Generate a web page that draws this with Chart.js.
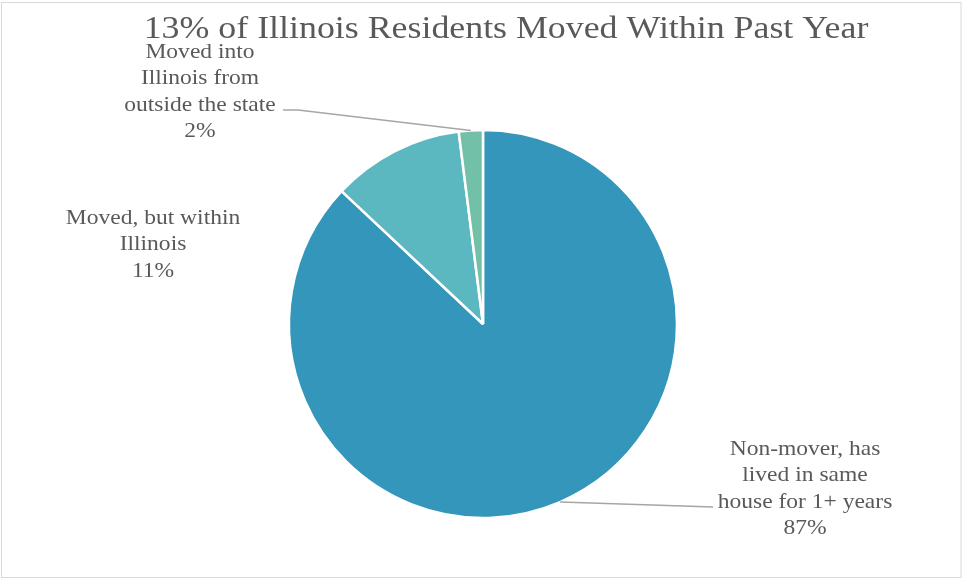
<!DOCTYPE html>
<html>
<head>
<meta charset="utf-8">
<script src="https://cdn.jsdelivr.net/npm/chart.js@4"></script>
<style>
  html, body { margin: 0; padding: 0; background: #ffffff; }
  #wrap { width: 962px; height: 579px; position: relative; }
</style>
</head>
<body>
<div id="wrap"><canvas id="c" width="962" height="579"></canvas></div>
<script>
const titleText = "13% of Illinois Residents Moved Within Past Year";
const categories = [
  ["Non-mover, has", "lived in same", "house for 1+ years"],
  ["Moved, but within", "Illinois"],
  ["Moved into", "Illinois from", "outside the state"]
];
const values = [87, 11, 2];
const percentLabels = ["87%", "11%", "2%"];
const colors = ["#3596BB", "#5BB7C0", "#72C0A7"];

const FONT = '"Liberation Serif", "DejaVu Serif", serif';
const TEXT_COLOR = "#595959";
const STRETCH = 1.12;

// label layout: center x, first-line center y, and leader-line elbow (null = no leader)
const labelLayout = [
  { x: 805, y: 449, elbow: { x: 713, y: 507 } },
  { x: 153, y: 218, elbow: null },
  { x: 200, y: 52, elbow: { x: 283, y: 110, end: { x: 298, y: 110 } } }
];
const lineH = 26.5;

function stretchedText(ctx, t, x, y) {
  ctx.save();
  ctx.translate(x, y);
  ctx.scale(STRETCH, 1);
  ctx.fillText(t, 0, 0);
  ctx.restore();
}

const decorPlugin = {
  id: "decor",
  beforeDraw(chart) {
    const ctx = chart.ctx;
    ctx.save();
    ctx.fillStyle = "#ffffff";
    ctx.fillRect(0, 0, chart.width, chart.height);
    ctx.strokeStyle = "#D9D9D9";
    ctx.lineWidth = 1;
    ctx.strokeRect(1.5, 2.5, chart.width - 2.5, chart.height - 4);
    ctx.restore();
  },
  afterDraw(chart) {
    const ctx = chart.ctx;
    ctx.save();
    // title
    ctx.fillStyle = TEXT_COLOR;
    ctx.font = "32px " + FONT;
    ctx.textAlign = "center";
    ctx.textBaseline = "middle";
    stretchedText(ctx, titleText, 506, 30);

    const meta = chart.getDatasetMeta(0);
    meta.data.forEach((arc, i) => {
      const lay = labelLayout[i];
      const lines = categories[i].concat([percentLabels[i]]);
      if (lay.elbow) {
        const mid = (arc.startAngle + arc.endAngle) / 2;
        const sx = arc.x + Math.cos(mid) * arc.outerRadius;
        const sy = arc.y + Math.sin(mid) * arc.outerRadius;
        ctx.strokeStyle = "#A6A6A6";
        ctx.lineWidth = 1.5;
        ctx.beginPath();
        ctx.moveTo(sx, sy);
        if (lay.elbow.end) {
          ctx.lineTo(lay.elbow.end.x, lay.elbow.end.y);
        }
        ctx.lineTo(lay.elbow.x, lay.elbow.y);
        ctx.stroke();
      }
      ctx.fillStyle = TEXT_COLOR;
      ctx.font = "21px " + FONT;
      ctx.textAlign = "center";
      ctx.textBaseline = "middle";
      lines.forEach((t, k) => stretchedText(ctx, t, lay.x, lay.y + k * lineH));
    });
    ctx.restore();
  }
};

new Chart(document.getElementById("c"), {
  type: "pie",
  data: {
    labels: categories.map(c => c.join(" ")),
    datasets: [{
      data: values,
      backgroundColor: colors,
      borderColor: "#ffffff",
      borderWidth: 2.5,
      radius: 194
    }]
  },
  options: {
    responsive: false,
    animation: false,
    devicePixelRatio: 1,
    layout: { padding: { top: 130, bottom: 61, left: 4, right: 0 } },
    plugins: {
      legend: { display: false },
      title: { display: false },
      tooltip: { enabled: false }
    }
  },
  plugins: [decorPlugin]
});
</script>
</body>
</html>
